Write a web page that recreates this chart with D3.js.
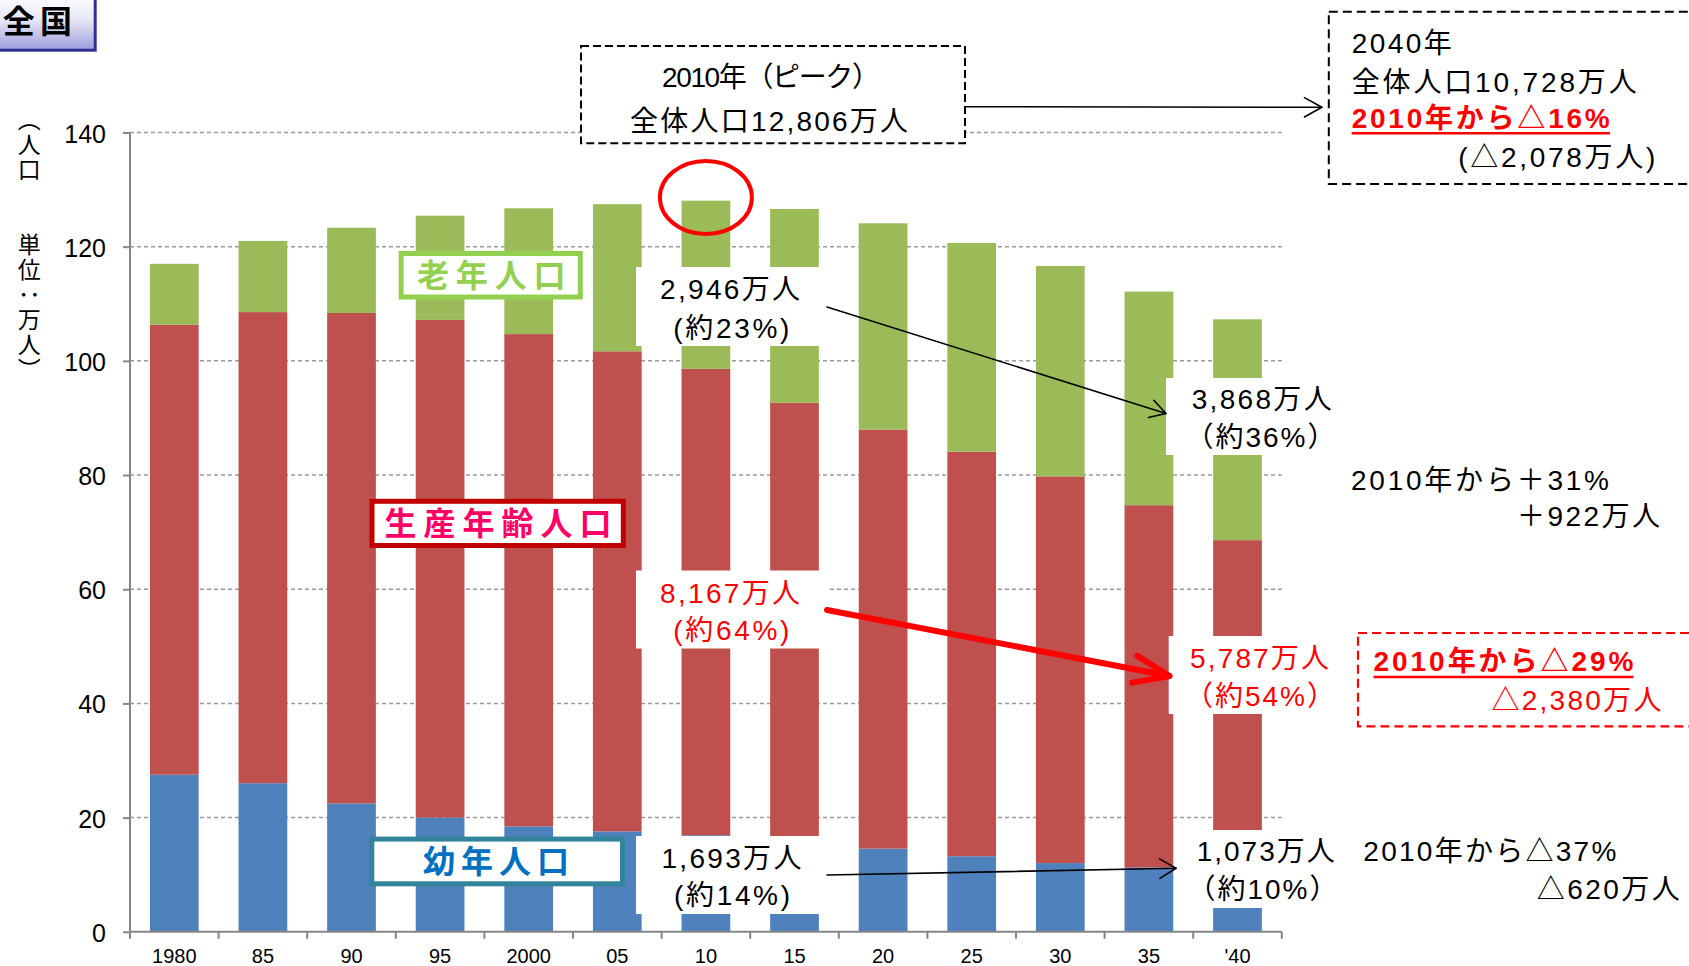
<!DOCTYPE html>
<html>
<head>
<meta charset="utf-8">
<script src="https://cdn.jsdelivr.net/npm/d3@7"></script>
<style>
  html, body { margin: 0; padding: 0; background: #ffffff; }
  svg { display: block; }
  text { font-family: "Liberation Sans", "Noto Sans CJK JP", sans-serif; }
  .vertical { writing-mode: vertical-rl; font-family: "Noto Sans CJK JP", sans-serif; }
</style>
</head>
<body>
<svg id="chart" width="1689" height="966"></svg>
<script>
// ---- data (population, 万人) ----
const years   = ["1980", "85", "90", "95", "2000", "05", "10", "15", "20", "25", "30", "35", "'40"];
const young   = [2751, 2603, 2249, 2001, 1847, 1759, 1693, 1583, 1457, 1324, 1204, 1129, 1073];
const working = [7884, 8251, 8590, 8716, 8622, 8409, 8167, 7682, 7341, 7085, 6773, 6343, 5787];
const elderly = [1065, 1247, 1493, 1826, 2204, 2576, 2946, 3395, 3612, 3657, 3685, 3741, 3868];
const yTicks  = [0, 2000, 4000, 6000, 8000, 10000, 12000, 14000];
const seriesKeys  = ["young", "working", "elderly"];
const seriesNames = ["幼年人口", "生産年齢人口", "老年人口"];

// ---- annotation texts ----
const titleText   = "全国";
const axisTitle   = "（人口　　単位：万人）";
const peakLines   = ["2010年（ピーク）", "全体人口12,806万人"];
const endLines    = ["2040年", "全体人口10,728万人", "2010年から△16%", "(△2,078万人)"];
const elderly2010 = ["2,946万人", "(約23%)"];
const working2010 = ["8,167万人", "(約64%)"];
const young2010   = ["1,693万人", "(約14%)"];
const elderly2040 = ["3,868万人", "（約36%）"];
const working2040 = ["5,787万人", "（約54%）"];
const young2040   = ["1,073万人", "（約10%）"];
const elderlyChange = ["2010年から＋31%", "＋922万人"];
const workingChange = ["2010年から△29%", "△2,380万人"];
const youngChange   = ["2010年から△37%", "△620万人"];

// ---- styles ----
const colors = { young: "#4F81BD", working: "#C0504D", elderly: "#9BBB59" };
const RED = "#FF0000";

const svg = d3.select("#chart");

const x = d3.scaleBand()
  .domain(years)
  .range([130, 1281.8])
  .paddingInner(0.45)
  .paddingOuter(0.225);

const y = d3.scaleLinear()
  .domain([0, 14000])
  .range([931.8, 132.5]);

const rows = years.map((yr, i) => ({ year: yr, young: young[i], working: working[i], elderly: elderly[i] }));
const stacked = d3.stack().keys(seriesKeys)(rows);

// ---- grid lines ----
svg.append("g")
  .selectAll("line")
  .data(yTicks.filter(d => d > 0))
  .join("line")
  .attr("x1", 130).attr("x2", 1281.8)
  .attr("y1", d => y(d)).attr("y2", d => y(d))
  .attr("stroke", "#9a9a9a")
  .attr("stroke-width", 1.5)
  .attr("stroke-dasharray", "4,3");

// ---- bars ----
svg.append("g")
  .selectAll("g")
  .data(stacked)
  .join("g")
  .attr("fill", s => colors[s.key])
  .selectAll("rect")
  .data(s => s)
  .join("rect")
  .attr("x", d => x(d.data.year))
  .attr("width", x.bandwidth())
  .attr("y", d => y(d[1]))
  .attr("height", d => y(d[0]) - y(d[1]));

// ---- axes ----
const yAxis = d3.axisLeft(y)
  .tickValues(yTicks)
  .tickFormat(d => d / 100)
  .tickSize(7)
  .tickPadding(0);
const yg = svg.append("g").attr("transform", "translate(130,0)").call(yAxis);
yg.select(".domain").attr("stroke", "#868686").attr("stroke-width", 2).attr("d", `M0,${y(14000)}V${y(0)}`);
yg.selectAll(".tick line").attr("stroke", "#868686").attr("stroke-width", 2);
yg.selectAll(".tick text")
  .attr("x", -24).attr("dy", null).attr("y", 9.5)
  .attr("font-size", 25).attr("fill", "#000")
  .style("font-family", "'Liberation Sans', Arial, sans-serif");

const xg = svg.append("g").attr("transform", `translate(0,${y(0)})`).call(d3.axisBottom(x).tickSize(0));
xg.select(".domain").attr("stroke", "#868686").attr("stroke-width", 2).attr("d", "M130,0H1281.8");
xg.selectAll(".tick text")
  .attr("y", 31).attr("dy", null)
  .attr("font-size", 20).attr("fill", "#000")
  .style("font-family", "'Liberation Sans', Arial, sans-serif");
// tick marks between categories
const step = x.step();
const bounds = d3.range(years.length + 1).map(i => 130 + i * step);
xg.selectAll(".sep").data(bounds).join("line")
  .attr("class", "sep")
  .attr("x1", d => d).attr("x2", d => d)
  .attr("y1", 0).attr("y2", 7)
  .attr("stroke", "#868686").attr("stroke-width", 2);

// ---- helpers ----
function label(g, s, xPos, base, o = {}) {
  const t = g.append("text")
    .attr("x", xPos).attr("y", base)
    .attr("font-size", o.size || 28)
    .attr("fill", o.color || "#000")
    .attr("font-weight", o.bold ? "bold" : "normal")
    .attr("text-anchor", o.anchor || "start")
    .text(s);
  if (o.width) t.attr("textLength", o.width).attr("lengthAdjust", "spacing");
  return t;
}
function whiteBox(g, x0, y0, x1, y1) {
  g.append("rect").attr("x", x0).attr("y", y0).attr("width", x1 - x0).attr("height", y1 - y0).attr("fill", "#fff");
}
function arrow(g, x1, y1, x2, y2, o = {}) {
  const c = o.color || "#000", w = o.width || 1.6, len = o.len || 19, ang = (o.angle || 30) * Math.PI / 180;
  g.append("line").attr("x1", x1).attr("y1", y1).attr("x2", x2).attr("y2", y2)
    .attr("stroke", c).attr("stroke-width", w).attr("stroke-linecap", "round");
  const a = Math.atan2(y2 - y1, x2 - x1) + Math.PI;
  const p1 = [x2 + len * Math.cos(a - ang), y2 + len * Math.sin(a - ang)];
  const p2 = [x2 + len * Math.cos(a + ang), y2 + len * Math.sin(a + ang)];
  g.append("path").attr("d", `M${p1}L${x2},${y2}L${p2}`)
    .attr("fill", "none").attr("stroke", c).attr("stroke-width", w)
    .attr("stroke-linecap", "round").attr("stroke-linejoin", "round");
}

const ann = svg.append("g");

// ---- series name boxes ----
const legendBoxes = [
  { name: seriesNames[2], x0: 398.6, y0: 251,   x1: 582.8, y1: 299.5, stroke: "#92D050", color: "#92D050", tx: 417,   tw: 148.5 },
  { name: seriesNames[1], x0: 369.5, y0: 498.8, x1: 625.8, y1: 548,   stroke: "#C00000", color: "#FF0066", tx: 384.6, tw: 227 },
  { name: seriesNames[0], x0: 369.3, y0: 836.6, x1: 625,   y1: 886.3, stroke: "#31849B", color: "#0070C0", tx: 423,   tw: 146 }
];
legendBoxes.forEach(b => {
  ann.append("rect")
    .attr("x", b.x0 + 2.5).attr("y", b.y0 + 2.5)
    .attr("width", b.x1 - b.x0 - 5).attr("height", b.y1 - b.y0 - 5)
    .attr("fill", "#fff").attr("stroke", b.stroke).attr("stroke-width", 5);
  label(ann, b.name, b.tx, (b.y0 + b.y1) / 2 + 11.5, { size: 32, bold: true, color: b.color, width: b.tw });
});

// ---- value label boxes over the bars ----
whiteBox(ann, 636, 267, 827, 346);
whiteBox(ann, 636, 570.5, 827, 648.5);
whiteBox(ann, 636, 836, 827, 914);
whiteBox(ann, 1166, 378, 1340, 455);
whiteBox(ann, 1168.7, 636, 1340, 714);
whiteBox(ann, 1176, 830, 1340, 908);

label(ann, elderly2010[0], 660, 299.3, { width: 140 });
label(ann, elderly2010[1], 673.3, 338, { width: 116 });
label(ann, working2010[0], 660, 603.3, { width: 140, color: RED });
label(ann, working2010[1], 673.3, 640, { width: 116, color: RED });
label(ann, young2010[0], 661.4, 867.7, { width: 140 });
label(ann, young2010[1], 674, 905, { width: 116 });

label(ann, elderly2040[0], 1191.7, 409.3, { width: 140 });
label(ann, elderly2040[1], 1260.5, 447, { anchor: "middle", width: 150 });
label(ann, working2040[0], 1190, 668, { width: 139, color: RED });
label(ann, working2040[1], 1260, 706, { anchor: "middle", width: 150, color: RED });
label(ann, young2040[0], 1196.7, 860.7, { width: 138 });
label(ann, young2040[1], 1262.5, 899, { anchor: "middle", width: 150 });

// ---- change notes on the right ----
label(ann, elderlyChange[0], 1351, 489.6, { width: 258 });
label(ann, elderlyChange[1], 1517, 526.2, { width: 143 });

ann.append("rect").attr("x", 1358).attr("y", 633).attr("width", 340).attr("height", 93.4)
  .attr("fill", "none").attr("stroke", RED).attr("stroke-width", 2.2).attr("stroke-dasharray", "9,5");
label(ann, workingChange[0], 1373.5, 671.4, { width: 260, bold: true, color: RED });
ann.append("line").attr("x1", 1373.5).attr("x2", 1633.4).attr("y1", 677).attr("y2", 677)
  .attr("stroke", RED).attr("stroke-width", 2.5);
label(ann, workingChange[1], 1491.4, 709.7, { width: 170, color: RED });

label(ann, youngChange[0], 1363.3, 860.7, { width: 253 });
label(ann, youngChange[1], 1536.7, 899, { width: 143 });

// ---- peak box ----
ann.append("rect").attr("x", 581).attr("y", 46).attr("width", 384).attr("height", 97.3)
  .attr("fill", "#fff").attr("stroke", "#000").attr("stroke-width", 2).attr("stroke-dasharray", "8,4");
label(ann, peakLines[0], 662, 86.7, { width: 218 });
label(ann, peakLines[1], 630, 130.7, { width: 278 });

// ---- 2040 box ----
ann.append("rect").attr("x", 1328.8).attr("y", 11.7).attr("width", 380).attr("height", 172.3)
  .attr("fill", "#fff").attr("stroke", "#000").attr("stroke-width", 2).attr("stroke-dasharray", "9,5");
label(ann, endLines[0], 1351.7, 53.3, { width: 100 });
label(ann, endLines[1], 1351.7, 91.7, { width: 285 });
label(ann, endLines[2], 1351.7, 128.3, { width: 258, bold: true, color: RED });
ann.append("line").attr("x1", 1351.7).attr("x2", 1610).attr("y1", 133.3).attr("y2", 133.3)
  .attr("stroke", RED).attr("stroke-width", 2.5);
label(ann, endLines[3], 1458.3, 166.7, { width: 197 });

// ---- arrows ----
arrow(ann, 965, 106.7, 1321.9, 107.3, { len: 20, angle: 29 });
arrow(ann, 827, 307, 1166, 413.5, { len: 18, angle: 30 });
arrow(ann, 827, 610, 1169.5, 676, { color: RED, width: 6, len: 38, angle: 21 });
arrow(ann, 827, 875, 1176, 868.3, { len: 19, angle: 31 });

// ---- peak marker ----
ann.append("ellipse")
  .attr("cx", x("10") + x.bandwidth() / 2).attr("cy", 197.5)
  .attr("rx", 46).attr("ry", 36.5)
  .attr("fill", "none").attr("stroke", RED).attr("stroke-width", 4);

// ---- vertical axis title ----
ann.append("text")
  .attr("class", "vertical")
  .attr("x", 29.3).attr("y", 107.5)
  .attr("font-size", 23)
  .attr("letter-spacing", 2)
  .text(axisTitle);

// ---- region title ----
const defs = svg.append("defs");
const grad = defs.append("linearGradient").attr("id", "titleFill").attr("x1", 0).attr("y1", 0).attr("x2", 0).attr("y2", 1);
grad.append("stop").attr("offset", "0%").attr("stop-color", "#ffffff");
grad.append("stop").attr("offset", "45%").attr("stop-color", "#e6e6f6");
grad.append("stop").attr("offset", "100%").attr("stop-color", "#9c9cdc");
ann.append("rect").attr("x", -4).attr("y", -4).attr("width", 99.2).attr("height", 54.2)
  .attr("fill", "url(#titleFill)").attr("stroke", "#2E3192").attr("stroke-width", 3);
label(ann, titleText, 2.7, 33, { size: 32, bold: true, width: 69.3 });
</script>
</body>
</html>
